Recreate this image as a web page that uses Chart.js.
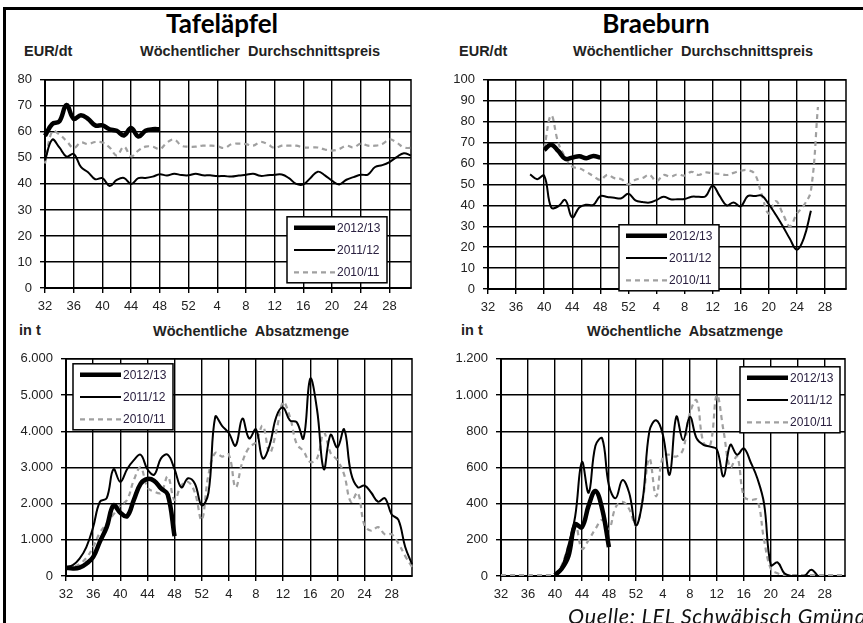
<!DOCTYPE html>
<html lang="de">
<head>
<meta charset="utf-8">
<title>Tafeläpfel und Braeburn</title>
<script src="https://cdn.jsdelivr.net/npm/chart.js@4.4.1/dist/chart.umd.min.js"></script>
<style>
  body { margin: 0; background: #fff; }
  #page { position: relative; width: 863px; height: 623px; overflow: hidden; background: #fff; }
  #frame { position: absolute; left: 3px; top: 7px; width: 1000px; height: 1000px; border-left: 3px solid #000; border-top: 3px solid #000; }
  canvas { position: absolute; }
  .title { position: absolute; font: bold 26px Lato, sans-serif; line-height: 1; transform: translateX(-50%); white-space: nowrap; color: #000; }
  .lbl { position: absolute; font: bold 14.5px "Liberation Sans", Arial, sans-serif; line-height: 1; color: #222; white-space: nowrap; }
  .src { position: absolute; font: italic 21.5px Lato, sans-serif; letter-spacing: 0.7px; line-height: 1; white-space: nowrap; color: #111; }
</style>
</head>
<body>
<div id="page">
  <div id="frame"></div>

  <div class="title" style="left:222px; top:10px">Tafeläpfel</div>
  <div class="title" style="left:656px; top:10px">Braeburn</div>

  <div class="lbl" style="left:24px; top:44px">EUR/dt</div>
  <div class="lbl" style="left:140px; top:44px">Wöchentlicher&nbsp; Durchschnittspreis</div>
  <div class="lbl" style="left:459px; top:44px">EUR/dt</div>
  <div class="lbl" style="left:573px; top:44px">Wöchentlicher&nbsp; Durchschnittspreis</div>

  <div class="lbl" style="left:19px; top:323px">in t</div>
  <div class="lbl" style="left:153px; top:324px">Wöchentliche&nbsp; Absatzmenge</div>
  <div class="lbl" style="left:461px; top:323px">in t</div>
  <div class="lbl" style="left:587px; top:324px">Wöchentliche&nbsp; Absatzmenge</div>

  <canvas id="tafelPreis" width="418" height="252" style="left:1px; top:64px"></canvas>
  <canvas id="braePreis" width="410" height="253" style="left:444px; top:64px"></canvas>
  <canvas id="tafelMenge" width="412" height="261" style="left:8px; top:343px"></canvas>
  <canvas id="braeMenge" width="410" height="261" style="left:443px; top:343px"></canvas>

  <div class="src" style="left:568px; top:606px">Quelle: LEL Schwäbisch Gmünd</div>
</div>

<script>
// Kalenderwochen (Saison KW 32 bis KW 31)
const weeks = ['32','33','34','35','36','37','38','39','40','41',
               '42','43','44','45','46','47','48','49','50','51',
               '52','1','2','3','4','5','6','7','8','9',
               '10','11','12','13','14','15','16','17','18','19',
               '20','21','22','23','24','25','26','27','28','29',
               '30','31'];
const seasons = ['2012/13', '2011/12', '2010/11'];

// Tafeläpfel - Preis EUR/dt
const tafelPreis2012 = [58.5, 63, 64, 70.3, 65, 66.4, 65, 62.5, 62.5, 61,
                        60.4, 58.6, 61.5, 58.2, 60.4, 61, 61, null, null, null,
                        null, null, null, null, null, null, null, null, null, null,
                        null, null, null, null, null, null, null, null, null, null,
                        null, null, null, null, null, null, null, null, null, null,
                        null, null];
const tafelPreis2011 = [49, 57, 54, 50.5, 51.5, 46.5, 44.5, 41.8, 42.2, 39.2,
                        41.5, 42.3, 40, 42.2, 42.3, 42.8, 43.7, 43.2, 43.9, 43.4,
                        43.3, 43.9, 43.3, 43.3, 43, 43, 42.8, 43.2, 43.5, 43.9,
                        43.1, 43.3, 43.5, 43.6, 42.2, 40, 39.8, 42.3, 44.7, 43.3,
                        41.2, 39.8, 41.6, 42.6, 43.5, 43.6, 46.5, 47.2, 48.4, 50.3,
                        51.8, 50.9];
const tafelPreis2010 = [47.8, 60.2, 59, 56.5, 53.8, 55.9, 55.3, 56.1, 55.9, 54,
                        50.9, 54.3, 50.6, 52.8, 54.3, 54.3, 53.4, 55.9, 57.1, 54.7,
                        54.3, 54.3, 54.7, 54.7, 54.5, 53.8, 55.3, 55.5, 55.3, 54.7,
                        56.1, 55.3, 53.8, 54.7, 54.7, 54.7, 54, 54, 54, 53.2,
                        52.8, 53.4, 54.7, 54, 55.5, 54.7, 54.7, 55.3, 57.1, 55.9,
                        54, 53.8];

// Braeburn - Preis EUR/dt
const braePreis2012 = [null, null, null, null, null, null, null, null, 66.5, 69,
                       66, 62.3, 62.8, 63.5, 62.5, 63.6, 62.8, null, null, null,
                       null, null, null, null, null, null, null, null, null, null,
                       null, null, null, null, null, null, null, null, null, null,
                       null, null, null, null, null, null, null, null, null, null,
                       null, null];
const braePreis2011 = [null, null, null, null, null, null, 54.8, 52.5, 54.2, 39,
                       39.5, 42.5, 34.2, 39, 40.3, 40.2, 44.4, 44, 43.6, 43.4,
                       45.5, 42.4, 41.6, 41.3, 42.5, 44.1, 42.9, 42.9, 43, 44.1,
                       44.1, 44.3, 49.4, 44.5, 40, 41.4, 39.5, 44.4, 44.4, 44.6,
                       40.5, 35.5, 30, 24, 18.8, 24.3, 37.4, null, null, null,
                       null, null];
const braePreis2010 = [null, null, null, null, null, null, null, null, 67, 83,
                       70, 63, 58.5, 57.7, 56, 54, 52.2, 54.6, 53, 52.5,
                       50, 52.2, 53, 54.6, 51.5, 54.5, 53.7, 54.8, 54.2, 56,
                       54.5, 55.7, 55.3, 55, 54.5, 55.5, 56.5, 56.8, 55, 45,
                       36, 42, 36, 30, 36, 40, 47, 87, null, null,
                       null, null];

// Tafeläpfel - Absatzmenge in t
const tafelMenge2012 = [230, 210, 230, 340, 520, 950, 1350, 1950, 1750, 1650,
                        2100, 2550, 2680, 2630, 2420, 2250, 1100, null, null, null,
                        null, null, null, null, null, null, null, null, null, null,
                        null, null, null, null, null, null, null, null, null, null,
                        null, null, null, null, null, null, null, null, null, null,
                        null, null];
const tafelMenge2011 = [250, 300, 480, 800, 1350, 2050, 2150, 2950, 2600, 2950,
                        3200, 3350, 2950, 2800, 3250, 3350, 2950, 2450, 2700, 2550,
                        1950, 2300, 4400, 4150, 3950, 3600, 4350, 3800, 4050, 3250,
                        3600, 4400, 4650, 4300, 4250, 3800, 5450, 4600, 2950, 3900,
                        3550, 4050, 2850, 2450, 2500, 2300, 2050, 2150, 1700, 1550,
                        800, 330];
const tafelMenge2010 = [240, 250, 330, 500, 800, 1200, 1450, 1700, 1950, 2100,
                        2650, 3000, 2450, 2330, 2300, 2750, 2100, 2500, 2600, 2300,
                        1550, 2800, 3400, 3300, 3350, 2450, 3150, 3550, 3700, 4150,
                        3400, 4000, 4800, 4400, 3650, 3450, 3150, 3250, 3950, 3400,
                        3200, 2800, 2050, 2300, 1400, 1250, 1350, 1150, 1150, 900,
                        550, 250];

// Braeburn - Absatzmenge in t
const braeMenge2012 = [null, null, null, null, null, null, null, null, 5, 40,
                       110, 285, 270, 390, 470, 370, 160, null, null, null,
                       null, null, null, null, null, null, null, null, null, null,
                       null, null, null, null, null, null, null, null, null, null,
                       null, null, null, null, null, null, null, null, null, null,
                       null, null];
const braeMenge2011 = [null, null, null, null, null, null, null, null, 0, 50,
                       170, 330, 630, 460, 720, 760, 500, 430, 530, 460,
                       280, 420, 800, 860, 780, 560, 880, 750, 880, 760,
                       725, 715, 700, 550, 725, 670, 705, 630, 540, 400,
                       60, 75, 15, 0, 0, 0, 35, 0, null, null,
                       null, null];
const braeMenge2010 = [5, 5, 5, 5, 5, 5, 5, 5, 10, 60,
                       170, 290, 150, 200, 260, 310, 260, 380, 410, 370,
                       280, 420, 650, 440, 660, 670, 660, 700, 900, 970,
                       740, 720, 1000, 800, 600, 660, 440, 420, 420, 200,
                       40, 15, 5, 5, 5, 5, 5, 5, 5, 5,
                       5, 5];

// Legende mit Rahmen innerhalb der Zeichenfläche
const boxLegend = {
    id: 'boxLegend',
    afterDatasetsDraw(chart, args, opts) {
        const ctx = chart.ctx;
        const ca = chart.chartArea;
        const x = ca.left + opts.x;
        const y = ca.top + opts.y;
        ctx.save();
        ctx.fillStyle = '#fff';
        ctx.fillRect(x, y, 100, 66);
        ctx.strokeStyle = '#000';
        ctx.lineWidth = 1.5;
        ctx.strokeRect(x, y, 100, 66);
        chart.data.datasets.forEach((ds, k) => {
            const ly = y + 11 + k * 22.3;
            ctx.beginPath();
            ctx.setLineDash(ds.borderDash || []);
            ctx.lineWidth = ds.borderWidth;
            ctx.strokeStyle = ds.borderColor;
            ctx.moveTo(x + 7, ly);
            ctx.lineTo(x + 48, ly);
            ctx.stroke();
            ctx.setLineDash([]);
            ctx.fillStyle = '#2a2040';
            ctx.font = '12px "Liberation Sans", Arial, sans-serif';
            ctx.textBaseline = 'middle';
            ctx.fillText(ds.label, x + 50, ly + 0.5);
        });
        ctx.restore();
    }
};

// Rahmen um die Zeichenfläche
const plotFrame = {
    id: 'plotFrame',
    beforeDatasetsDraw(chart) {
        const ctx = chart.ctx;
        const ca = chart.chartArea;
        ctx.save();
        ctx.strokeStyle = '#000';
        ctx.lineWidth = 1.5;
        ctx.strokeRect(ca.left, ca.top, ca.right - ca.left, ca.bottom - ca.top);
        ctx.restore();
    }
};

function germanNumber(v) {
    if (v < 1000) return String(v);
    return Math.floor(v / 1000) + '.' + String(v % 1000).padStart(3, '0');
}

function makePanel(canvasId, series, yMax, yStep, yWidth, legendX, legendY) {
    const styles = [
        { borderColor: '#000', borderWidth: 4.5, borderDash: [] },
        { borderColor: '#000', borderWidth: 2, borderDash: [] },
        { borderColor: '#a0a0a0', borderWidth: 2.2, borderDash: [5, 4] }
    ];
    const tickFont = { family: '"Liberation Sans", Arial, sans-serif', size: 13 };

    return new Chart(document.getElementById(canvasId), {
        type: 'line',
        data: {
            labels: weeks,
            datasets: series.map((values, k) => ({
                label: seasons[k],
                data: values,
                ...styles[k],
                pointRadius: 0,
                tension: 0.4,
                fill: false,
                spanGaps: false
            }))
        },
        options: {
            responsive: false,
            animation: false,
            devicePixelRatio: 1,
            layout: { padding: { top: 10, right: 8, left: 0, bottom: 0 } },
            plugins: {
                legend: { display: false },
                tooltip: { enabled: false },
                boxLegend: { x: legendX, y: legendY }
            },
            scales: {
                x: {
                    type: 'category',
                    offset: false,
                    afterFit: s => { s.height = 28; },
                    grid: { color: '#000', lineWidth: 1.4, tickLength: 5, tickColor: '#000', drawOnChartArea: true },
                    border: { color: '#000', width: 2 },
                    ticks: {
                        autoSkip: false,
                        maxRotation: 0,
                        padding: 6,
                        color: '#222',
                        font: tickFont,
                        callback: (val, idx) => (idx % 4 === 0 && idx < 51) ? weeks[idx] : null
                    }
                },
                y: {
                    min: 0,
                    max: yMax,
                    afterFit: s => { s.width = yWidth; },
                    grid: { color: '#000', lineWidth: 1.4, tickLength: 5, tickColor: '#000' },
                    border: { color: '#000', width: 2 },
                    ticks: {
                        stepSize: yStep,
                        padding: 8,
                        color: '#222',
                        font: tickFont,
                        callback: v => germanNumber(v)
                    }
                }
            }
        },
        plugins: [plotFrame, boxLegend]
    });
}

makePanel('tafelPreis', [tafelPreis2012, tafelPreis2011, tafelPreis2010], 80, 10, 44, 242, 137);
makePanel('braePreis', [braePreis2012, braePreis2011, braePreis2010], 100, 10, 44, 131, 145);
makePanel('tafelMenge', [tafelMenge2012, tafelMenge2011, tafelMenge2010], 6000, 1000, 58, 7, 5);
makePanel('braeMenge', [braeMenge2012, braeMenge2011, braeMenge2010], 1200, 200, 58, 239, 8);
</script>
</body>
</html>
